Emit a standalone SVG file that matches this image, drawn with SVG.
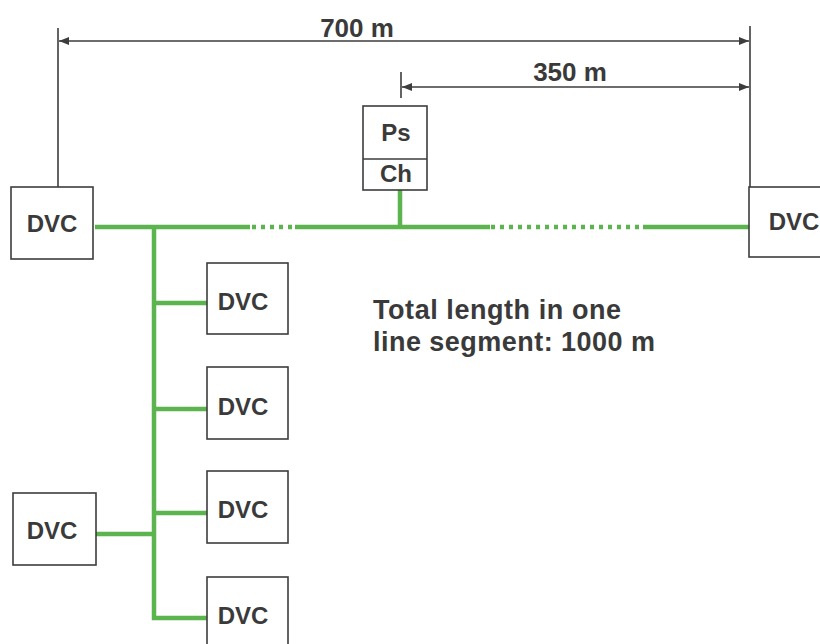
<svg xmlns="http://www.w3.org/2000/svg" width="820" height="644" viewBox="0 0 820 644">
<style>
.box{fill:#fff;stroke:#3d3d3d;stroke-width:1.6}
.lbl{font-family:"Liberation Sans",Arial,sans-serif;font-weight:bold;font-size:24px;fill:#3a3a3a;text-anchor:middle}
.dim{stroke:#3d3d3d;stroke-width:1.6;fill:none}
.bus{stroke:#5cb44e;stroke-width:4.5;fill:none}
.dots{stroke:#5cb44e;stroke-width:4.5;fill:none;stroke-dasharray:4 5}
.big{font-family:"Liberation Sans",Arial,sans-serif;font-weight:bold;font-size:26px;fill:#3a3a3a}
.note{font-family:"Liberation Sans",Arial,sans-serif;font-weight:bold;font-size:27px;fill:#3a3a3a}
</style>
<defs>
<marker id="ah" viewBox="0 0 10 8" refX="10" refY="4" markerWidth="10" markerHeight="8" markerUnits="userSpaceOnUse" orient="auto-start-reverse">
<path d="M0,0 L10,4 L0,8 Z" fill="#3d3d3d"/>
</marker>
</defs>
<rect width="820" height="644" fill="#fff"/>
<g id="dimensions">
<line class="dim" x1="58" y1="28" x2="58" y2="187"/>
<line class="dim" x1="750" y1="26" x2="750" y2="187"/>
<line class="dim" x1="59" y1="41" x2="749" y2="41" marker-start="url(#ah)" marker-end="url(#ah)"/>
<text class="big" x="357" y="37" text-anchor="middle">700 m</text>
<line class="dim" x1="401" y1="72" x2="401" y2="98"/>
<line class="dim" x1="402" y1="87" x2="749" y2="87" marker-start="url(#ah)" marker-end="url(#ah)"/>
<text class="big" x="570" y="81" text-anchor="middle">350 m</text>
</g>
<g id="connectors">
<path class="bus" d="M95,227 H250 M295,227 H490 M643,227 H749"/>
<path class="dots" d="M252,227 H295 M491,227 H643"/>
<path class="bus" d="M400,190 V227"/>
<path class="bus" d="M154,227 V618 H207"/>
<path class="bus" d="M154,303 H207 M154,409 H207 M154,513 H207"/>
<path class="bus" d="M96,534 H154"/>
</g>
<g id="dvc-left">
<rect class="box" x="11" y="187" width="82" height="72"/>
<text class="lbl" x="52" y="232">DVC</text>
</g>
<g id="dvc-right">
<rect class="box" x="749" y="187" width="90" height="70"/>
<text class="lbl" x="794" y="230">DVC</text>
</g>
<g id="ps-ch">
<rect class="box" x="363" y="106" width="64" height="84"/>
<line class="dim" x1="363" y1="159" x2="427" y2="159"/>
<text class="lbl" x="396" y="141">Ps</text>
<text class="lbl" x="396" y="182">Ch</text>
</g>
<g id="dvc-b1">
<rect class="box" x="207" y="263" width="81" height="71"/>
<text class="lbl" x="243" y="310">DVC</text>
</g>
<g id="dvc-b2">
<rect class="box" x="207" y="367" width="81" height="72"/>
<text class="lbl" x="243" y="415">DVC</text>
</g>
<g id="dvc-b3">
<rect class="box" x="207" y="471" width="81" height="72"/>
<text class="lbl" x="243" y="518">DVC</text>
</g>
<g id="dvc-b4">
<rect class="box" x="207" y="577" width="81" height="80"/>
<text class="lbl" x="243" y="624">DVC</text>
</g>
<g id="dvc-bottom-left">
<rect class="box" x="13" y="493" width="83" height="72"/>
<text class="lbl" x="52" y="539">DVC</text>
</g>
<g id="note">
<text class="note" x="373" y="319" textLength="248" lengthAdjust="spacing">Total length in one</text>
<text class="note" x="373" y="351" textLength="282" lengthAdjust="spacing">line segment: 1000 m</text>
</g>
</svg>
